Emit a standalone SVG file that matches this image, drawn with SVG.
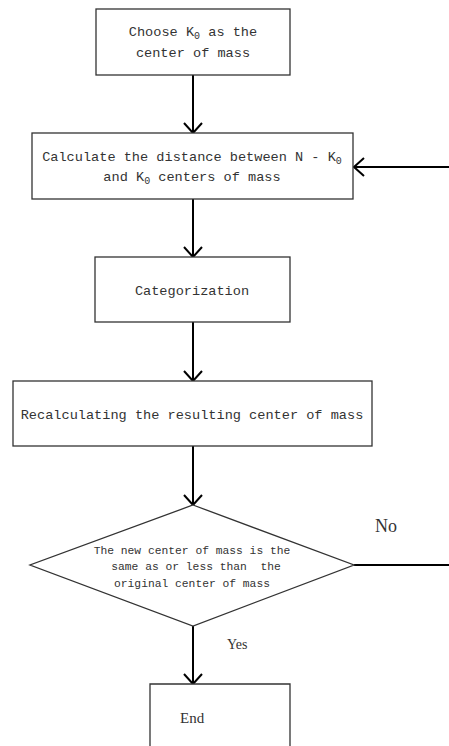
<svg xmlns="http://www.w3.org/2000/svg" width="449" height="746" viewBox="0 0 449 746">
<style>
.box{fill:#fff;stroke:#333;stroke-width:1.3}
.t{font-family:"Liberation Mono","DejaVu Sans Mono",monospace;font-size:13.6px;fill:#333;text-anchor:middle}
.ts{font-family:"Liberation Mono","DejaVu Sans Mono",monospace;font-size:11.3px;fill:#333;text-anchor:middle;white-space:pre}
.sub{font-size:10px}
.lbl{font-family:"Liberation Serif",serif;fill:#333}
.c{fill:none;stroke:#000;stroke-width:2}
</style>
<defs>
<marker id="ah" viewBox="0 0 12 20" refX="11" refY="10" markerWidth="12" markerHeight="20" markerUnits="userSpaceOnUse" orient="auto">
<path d="M1,1 L11,10 L1,19" fill="none" stroke="#000" stroke-width="2"/>
</marker>
</defs>
<g id="connectors">
<line class="c" x1="193" y1="75" x2="193" y2="133" marker-end="url(#ah)"/>
<line class="c" x1="193" y1="199" x2="193" y2="257" marker-end="url(#ah)"/>
<line class="c" x1="193" y1="322" x2="193" y2="381" marker-end="url(#ah)"/>
<line class="c" x1="193" y1="446" x2="193" y2="505" marker-end="url(#ah)"/>
<line class="c" x1="193" y1="626" x2="193" y2="684" marker-end="url(#ah)"/>
<line class="c" x1="354" y1="565" x2="449" y2="565"/>
<line class="c" x1="449" y1="167" x2="354" y2="167" marker-end="url(#ah)"/>
<text class="lbl" x="375" y="532" font-size="18">No</text>
<text class="lbl" x="227" y="649" font-size="14">Yes</text>
</g>
<g id="n1">
<rect class="box" x="96" y="9" width="194" height="66"/>
<text class="t" x="193" y="36">Choose K<tspan class="sub" dy="3">0</tspan><tspan dy="-3"> as the</tspan></text>
<text class="t" x="193" y="57">center of mass</text>
</g>
<g id="n2">
<rect class="box" x="32" y="133" width="321" height="66"/>
<text class="t" x="192" y="161">Calculate the distance between N - K<tspan class="sub" dy="3">0</tspan></text>
<text class="t" x="192" y="181">and K<tspan class="sub" dy="3">0</tspan><tspan dy="-3"> centers of mass</tspan></text>
</g>
<g id="n3">
<rect class="box" x="95" y="257" width="195" height="65"/>
<text class="t" x="192" y="295">Categorization</text>
</g>
<g id="n4">
<rect class="box" x="13" y="381" width="359" height="65"/>
<text class="t" x="192" y="419">Recalculating the resulting center of mass</text>
</g>
<g id="n5">
<polygon class="box" points="193,505 354,565 193,626 30,565"/>
<text class="ts" x="192" y="554">The new center of mass is the</text>
<text class="ts" x="196" y="570">same as or less than  the</text>
<text class="ts" x="192" y="587">original center of mass</text>
</g>
<g id="n6">
<path class="box" d="M150,750 L150,684 L290,684 L290,750"/>
<text class="lbl" x="180" y="723" font-size="15">End</text>
</g>
</svg>
